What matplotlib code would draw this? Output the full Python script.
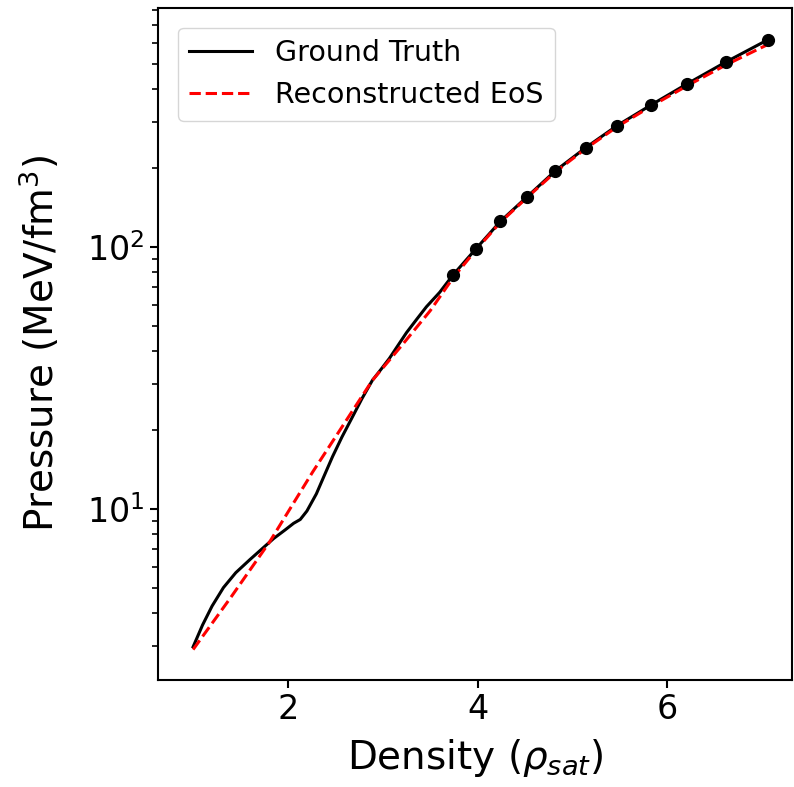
import matplotlib
matplotlib.use("Agg")
import matplotlib.pyplot as plt

# ground truth EoS (density in units of rho_sat, pressure in MeV/fm^3)
truth_density = [1.0, 1.1, 1.2, 1.32, 1.45, 1.6, 1.74, 1.85, 1.97, 2.06, 2.13, 2.2, 2.3,
                 2.38, 2.47, 2.57, 2.68, 2.78, 2.89, 2.98, 3.07, 3.16, 3.25, 3.36, 3.46,
                 3.6, 3.74, 3.98, 4.24, 4.52, 4.82, 5.14, 5.47, 5.83, 6.21, 6.62, 7.06]
truth_pressure = [2.97, 3.6, 4.25, 5.0, 5.7, 6.4, 7.1, 7.7, 8.3, 8.8, 9.1, 9.8, 11.4,
                  13.3, 15.8, 18.8, 22.4, 26.3, 30.9, 34.0, 37.5, 42.0, 47.0, 53.0, 59.0,
                  67.0, 78.0, 98.0, 125.0, 155.0, 195.0, 239.0, 290.0, 348.0, 419.0, 508.0, 617.0]

# reconstructed EoS
recon_density = [1.0, 1.4, 1.81, 2.26, 2.89, 3.2, 3.5, 3.74, 3.98, 4.24, 4.52,
                 4.82, 5.14, 5.47, 5.83, 6.21, 6.62, 7.06]
recon_pressure = [2.9, 4.6, 7.5, 13.8, 30.9, 42.0, 57.0, 76.0, 97.0, 124.0, 154.0,
                  193.0, 237.0, 287.0, 344.0, 412.0, 495.0, 592.0]

# sampled points on the ground truth
dot_density = [3.74, 3.98, 4.24, 4.52, 4.82, 5.14, 5.47, 5.83, 6.21, 6.62, 7.06]
dot_pressure = [78.0, 98.0, 125.0, 155.0, 195.0, 239.0, 290.0, 348.0, 419.0, 508.0, 617.0]

fig = plt.figure(figsize=(7.94, 7.87), dpi=100)
ax = fig.add_axes([0.199, 0.136, 0.799, 0.854])

ax.plot(truth_density, truth_pressure, color="black", lw=2.2, label="Ground Truth")
ax.plot(recon_density, recon_pressure, color="red", lw=2.2, ls="--", label="Reconstructed EoS")
ax.plot(dot_density, dot_pressure, "o", color="black", ms=8.5)

ax.set_yscale("log")
ax.set_xlim(0.63, 7.32)
ax.set_ylim(2.22, 817)
ax.set_xticks([2, 4, 6])
ax.tick_params(axis="both", which="major", labelsize=24, width=1.5, length=6)
ax.tick_params(axis="y", which="minor", width=1.2, length=4)
for s in ax.spines.values():
    s.set_linewidth(1.5)

ax.set_xlabel(r"Density ($\rho_{sat}$)", fontsize=28, labelpad=8)
ax.set_ylabel(r"Pressure (MeV/fm$^3$)", fontsize=28, labelpad=18)
ax.legend(loc="upper left", fontsize=20.5, handlelength=2.2, borderaxespad=0.7)

fig.savefig("out.png", dpi=100)
